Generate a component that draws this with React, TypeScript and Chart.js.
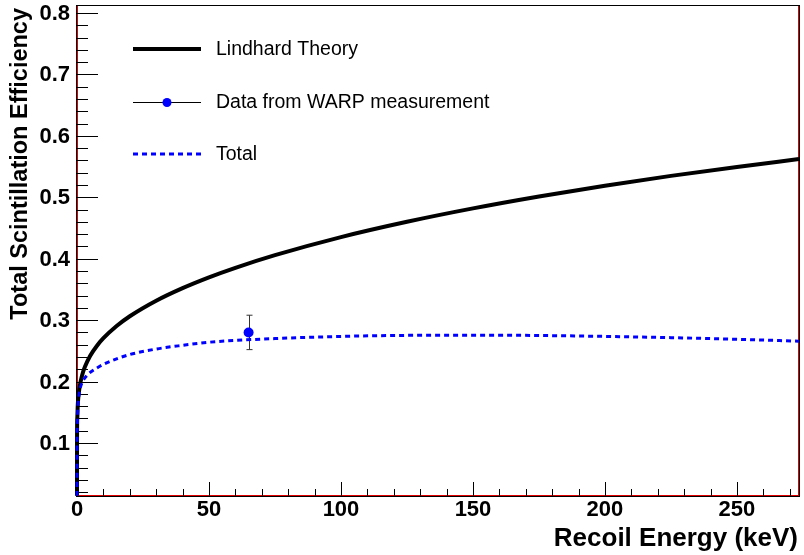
import { useEffect, useRef } from "react";
import { Chart, registerables } from "chart.js";
Chart.register(...registerables);

// Recoil energy (keV)
const energies = [0, 0.01, 0.1, 0.3, 0.5, 1, 2, 3, 5, 7.5, 10, 15, 20, 30, 40, 50, 60, 75, 100, 125, 150, 175, 200, 225, 250, 273.5];
// Lindhard theory efficiency
const lindhard = [0.014, 0.102, 0.14, 0.1625, 0.174, 0.1915, 0.2112, 0.224, 0.242, 0.258, 0.2706, 0.2904, 0.3063, 0.3316, 0.3521, 0.3697, 0.3852, 0.4058, 0.4352, 0.4601, 0.4819, 0.5013, 0.5188, 0.5348, 0.5494, 0.5622];
// Total efficiency
const total = [0.014, 0.09, 0.125, 0.155, 0.168, 0.185, 0.199, 0.206, 0.215, 0.222, 0.228, 0.237, 0.244, 0.253, 0.259, 0.264, 0.267, 0.27, 0.2735, 0.2752, 0.2755, 0.275, 0.2735, 0.2715, 0.2688, 0.2658];
// WARP measurement
const warpEnergy = [65];
const warpEff = [0.28];
const warpErr = [0.028];

const xMajorTicks = [0, 50, 100, 150, 200, 250];
const xTickLabels = ["0", "50", "100", "150", "200", "250"];
const yMajorTicks = [0.1, 0.2, 0.3, 0.4, 0.5, 0.6, 0.7, 0.8];
const yTickLabels = ["0.1", "0.2", "0.3", "0.4", "0.5", "0.6", "0.7", "0.8"];

const X_MIN = 0, X_MAX = 273.5, Y_MIN = 0.0137, Y_MAX = 0.813;

const legendItems = ["Lindhard Theory", "Data from WARP measurement", "Total"];

const rootPlugin = {
  id: "rootStyle",
  beforeDatasetsDraw(chart: any) {
    const ctx = chart.ctx;
    const xs = chart.scales.x, ys = chart.scales.y;
    const a = chart.chartArea;
    ctx.save();
    // frame
    ctx.strokeStyle = "#000";
    ctx.lineWidth = 1;
    ctx.strokeRect(a.left - 0.5, a.top + 0.5, a.right - a.left + 1, a.bottom - a.top);
    ctx.strokeStyle = "#e00000";
    ctx.beginPath();
    ctx.moveTo(a.left, a.bottom - 0.5); ctx.lineTo(a.right, a.bottom - 0.5);
    ctx.moveTo(a.right - 0.5, a.top + 1); ctx.lineTo(a.right - 0.5, a.bottom);
    ctx.moveTo(a.left + 0.5, a.top + 1); ctx.lineTo(a.left + 0.5, a.bottom);
    ctx.stroke();

    // ticks
    ctx.strokeStyle = "#000";
    ctx.beginPath();
    for (let v = 10; v <= X_MAX; v += 10) {
      const px = Math.round(xs.getPixelForValue(v)) + 0.5;
      const len = v % 50 === 0 ? 14 : 7;
      ctx.moveTo(px, a.bottom); ctx.lineTo(px, a.bottom - len);
    }
    for (let k = 1; k * 0.02 <= Y_MAX + 1e-9; k++) {
      const v = k * 0.02;
      const py = Math.round(ys.getPixelForValue(v)) + 0.5;
      const len = k % 5 === 0 ? 21 : 11;
      ctx.moveTo(a.left, py); ctx.lineTo(a.left + len, py);
    }
    ctx.stroke();

    // error bars
    ctx.strokeStyle = "#333";
    ctx.lineWidth = 1;
    for (let i = 0; i < warpEnergy.length; i++) {
      const px = Math.round(xs.getPixelForValue(warpEnergy[i])) + 0.5;
      const top = ys.getPixelForValue(warpEff[i] + warpErr[i]);
      const bot = ys.getPixelForValue(warpEff[i] - warpErr[i]);
      ctx.beginPath();
      ctx.moveTo(px, top); ctx.lineTo(px, bot);
      ctx.moveTo(px - 3, top); ctx.lineTo(px + 3, top);
      ctx.moveTo(px - 3, bot); ctx.lineTo(px + 3, bot);
      ctx.stroke();
    }
    ctx.restore();
  },
  afterDraw(chart: any) {
    const ctx = chart.ctx;
    const xs = chart.scales.x, ys = chart.scales.y;
    const a = chart.chartArea;
    ctx.save();
    // tick labels
    ctx.fillStyle = "#000";
    ctx.font = "bold 22px 'Liberation Sans', Arial, sans-serif";
    ctx.textAlign = "center";
    ctx.textBaseline = "top";
    xMajorTicks.forEach((v, i) => {
      ctx.fillText(xTickLabels[i], xs.getPixelForValue(v), a.bottom + 3);
    });
    ctx.textAlign = "right";
    ctx.textBaseline = "middle";
    yMajorTicks.forEach((v, i) => {
      ctx.fillText(yTickLabels[i], a.left - 7, ys.getPixelForValue(v) + 1);
    });

    // axis titles
    ctx.font = "bold 26px 'Liberation Sans', Arial, sans-serif";
    ctx.textAlign = "right";
    ctx.textBaseline = "alphabetic";
    ctx.fillText("Recoil Energy (keV)", a.right - 1, 546);
    ctx.save();
    ctx.font = "bold 23.5px 'Liberation Sans', Arial, sans-serif";
    ctx.translate(27, a.top + 3);
    ctx.rotate(-Math.PI / 2);
    ctx.textAlign = "right";
    ctx.fillText("Total Scintillation Efficiency", 0, 0);
    ctx.restore();

    // legend
    const lx0 = 133, lx1 = 201, tx = 216;
    const rows = [49, 102, 154];
    ctx.font = "19.5px 'Liberation Sans', Arial, sans-serif";
    ctx.textAlign = "left";
    ctx.textBaseline = "middle";
    ctx.strokeStyle = "#000";
    ctx.lineWidth = 4;
    ctx.beginPath(); ctx.moveTo(lx0, rows[0]); ctx.lineTo(lx1, rows[0]); ctx.stroke();
    ctx.lineWidth = 1;
    ctx.beginPath(); ctx.moveTo(lx0, rows[1] + 0.5); ctx.lineTo(lx1, rows[1] + 0.5); ctx.stroke();
    ctx.fillStyle = "#0000ff";
    ctx.beginPath(); ctx.arc((lx0 + lx1) / 2, rows[1] + 0.5, 4.5, 0, Math.PI * 2); ctx.fill();
    ctx.strokeStyle = "#0000ff";
    ctx.lineWidth = 3;
    ctx.setLineDash([5, 4]);
    ctx.beginPath(); ctx.moveTo(lx0, rows[2]); ctx.lineTo(lx1, rows[2]); ctx.stroke();
    ctx.setLineDash([]);
    ctx.fillStyle = "#000";
    legendItems.forEach((t, i) => ctx.fillText(t, tx, rows[i] + 1));
    ctx.restore();
  },
};

export default function App() {
  const ref = useRef<HTMLCanvasElement | null>(null);
  useEffect(() => {
    document.body.style.margin = "0";
    if (!ref.current) return;
    const chart = new Chart(ref.current, {
      type: "line",
      data: {
        datasets: [
          {
            label: "Data from WARP measurement",
            data: warpEnergy.map((e, i) => ({ x: e, y: warpEff[i] })),
            showLine: false,
            pointRadius: 5,
            pointBackgroundColor: "#0000ff",
            pointBorderColor: "#0000ff",
            pointBorderWidth: 0,
          },
          {
            label: "Total",
            data: energies.map((e, i) => ({ x: e, y: total[i] })),
            borderColor: "#0000ff",
            borderWidth: 3,
            borderDash: [5, 4],
            pointRadius: 0,
            cubicInterpolationMode: "monotone",
            fill: false,
            clip: false,
          },
          {
            label: "Lindhard Theory",
            data: energies.map((e, i) => ({ x: e, y: lindhard[i] })),
            borderColor: "#000",
            borderWidth: 4,
            pointRadius: 0,
            cubicInterpolationMode: "monotone",
            fill: false,
            clip: false,
          },
        ],
      },
      options: {
        animation: false,
        responsive: false,
        devicePixelRatio: 1,
        layout: { padding: { left: 77, top: 5, right: 3, bottom: 59 } },
        plugins: { legend: { display: false }, tooltip: { enabled: false } },
        scales: {
          x: { type: "linear", min: X_MIN, max: X_MAX, display: false },
          y: { type: "linear", min: Y_MIN, max: Y_MAX, display: false },
        },
      },
      plugins: [rootPlugin],
    } as any);
    return () => chart.destroy();
  }, []);
  return (
    <canvas
      ref={ref}
      width={804}
      height={555}
      style={{ display: "block", width: 804, height: 555, background: "#fff" }}
    />
  );
}
